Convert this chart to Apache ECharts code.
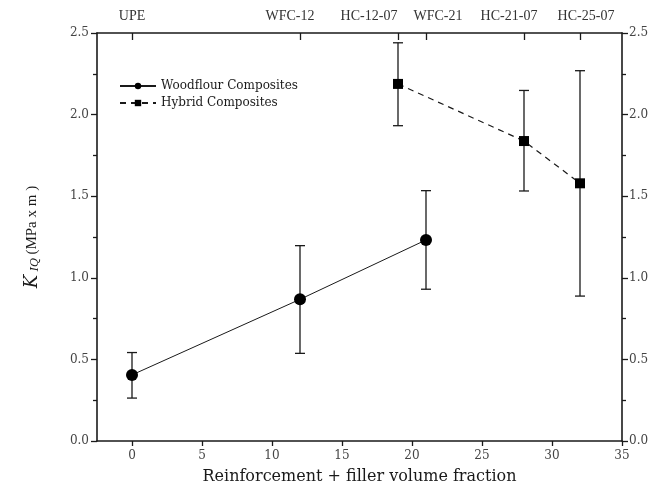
<!DOCTYPE html>
<html><head><meta charset="utf-8">
<script src="https://cdn.jsdelivr.net/npm/echarts@6/dist/echarts.min.js"></script>
<style>html,body{margin:0;padding:0;background:#fff}#c{width:666px;height:484px}</style>
</head><body><div id="c"></div>
<script>
// Data
const woodX = [0, 12, 21];
const woodY = [0.405, 0.868, 1.232];
const woodLow = [0.263, 0.537, 0.930];
const woodHigh = [0.542, 1.197, 1.534];

const hybX = [19, 28, 32];
const hybY = [2.188, 1.838, 1.579];
const hybLow = [1.932, 1.532, 0.888];
const hybHigh = [2.440, 2.148, 2.269];

const topTickValues = [0, 12, 19, 21, 28, 32];
const topTickLabels = ['UPE', 'WFC-12', 'HC-12-07', 'WFC-21', 'HC-21-07', 'HC-25-07'];
const bottomTicks = [0, 5, 10, 15, 20, 25, 30, 35];

// label nudges (left pad, right pad) for the top labels
const topPad = [[0, 0], [0, 20], [0, 58], [24, 0], [0, 30], [12, 0]];

const C = '#1a1a1a';
const serif = 'DejaVu Serif';
const chart = echarts.init(document.getElementById('c'));

function errData(xs, lo, hi) { return xs.map((x, i) => [x, lo[i], hi[i]]); }
function errRender(params, api) {
  const x = api.value(0);
  const p1 = api.coord([x, api.value(1)]);
  const p2 = api.coord([x, api.value(2)]);
  const w = 5;
  const st = { stroke: C, lineWidth: 1.3 };
  return { type: 'group', children: [
    { type: 'line', shape: { x1: p1[0], y1: p1[1], x2: p2[0], y2: p2[1] }, style: st },
    { type: 'line', shape: { x1: p1[0] - w, y1: p1[1], x2: p1[0] + w, y2: p1[1] }, style: st },
    { type: 'line', shape: { x1: p2[0] - w, y1: p2[1], x2: p2[0] + w, y2: p2[1] }, style: st }
  ]};
}

const topRich = {};
topTickLabels.forEach((l, i) => {
  topRich['t' + i] = { fontFamily: 'Liberation Serif', fontSize: 14, color: '#333', padding: [0, topPad[i][1], 0, topPad[i][0]] };
});

const axLine = { show: true, onZero: false, lineStyle: { color: C, width: 1.6 } };
chart.setOption({
  animation: false,
  backgroundColor: '#fff',
  grid: { left: 97, right: 44, top: 33, bottom: 43, outerBoundsMode: 'none', containLabel: false },
  legend: {
    orient: 'vertical', left: 114, top: 75, itemGap: 5, itemWidth: 36, itemHeight: 8,
    textStyle: { fontFamily: serif, fontSize: 12, color: C },
    data: ['Woodflour Composites', 'Hybrid Composites']
  },
  xAxis: [
    { type: 'value', position: 'bottom', min: -2.5, max: 35,
      name: 'Reinforcement + filler volume fraction', nameLocation: 'middle', nameGap: 28,
      nameTextStyle: { fontFamily: serif, fontSize: 16, color: C },
      axisLine: axLine, splitLine: { show: false },
      axisTick: { show: true, length: 5, customValues: bottomTicks, lineStyle: { color: C, width: 1.3 } },
      axisLabel: { customValues: bottomTicks, fontFamily: serif, fontSize: 12, color: '#444', margin: 9 } },
    { type: 'value', position: 'top', min: -2.5, max: 35,
      axisLine: axLine, splitLine: { show: false },
      axisTick: { show: true, inside: true, length: 7, customValues: topTickValues, lineStyle: { color: C, width: 1.3 } },
      axisLabel: { customValues: topTickValues, hideOverlap: false, margin: 10, rich: topRich,
        formatter: v => { const i = topTickValues.indexOf(v); return i >= 0 ? '{t' + i + '|' + topTickLabels[i] + '}' : ''; } } }
  ],
  yAxis: [
    { type: 'value', position: 'left', min: 0, max: 2.5, interval: 0.5,
      name: '{k|K}{s| IQ} {t|(MPa x m )}', nameLocation: 'middle', nameGap: 56, nameRotate: 90,
      nameTextStyle: { rich: {
        k: { fontFamily: serif, fontStyle: 'italic', fontSize: 18, color: C },
        s: { fontFamily: serif, fontStyle: 'italic', fontSize: 11, color: C, verticalAlign: 'bottom', padding: [6, 0, 0, 0] },
        t: { fontFamily: 'Liberation Serif', fontSize: 15, color: C } } },
      axisLine: axLine, splitLine: { show: false },
      axisTick: { show: true, length: 6, lineStyle: { color: C, width: 1.3 } },
      minorTick: { show: true, splitNumber: 2, length: 4, lineStyle: { color: C, width: 1.3 } },
      axisLabel: { fontFamily: serif, fontSize: 12, color: '#444', margin: 8, formatter: v => v.toFixed(1) } },
    { type: 'value', position: 'right', min: 0, max: 2.5, interval: 0.5,
      axisLine: axLine, splitLine: { show: false },
      axisTick: { show: true, length: 6, lineStyle: { color: C, width: 1.3 } },
      minorTick: { show: true, splitNumber: 2, length: 4, lineStyle: { color: C, width: 1.3 } },
      axisLabel: { fontFamily: serif, fontSize: 12, color: '#444', margin: 7, formatter: v => v.toFixed(1) } }
  ],
  series: [
    { type: 'custom', renderItem: errRender, data: errData(woodX, woodLow, woodHigh), z: 1, silent: true },
    { type: 'custom', renderItem: errRender, data: errData(hybX, hybLow, hybHigh), z: 1, silent: true },
    { name: 'Woodflour Composites', type: 'line', data: woodX.map((x, i) => [x, woodY[i]]),
      symbol: 'circle', symbolSize: 12, z: 3,
      lineStyle: { color: C, width: 1 }, itemStyle: { color: '#000' } },
    { name: 'Hybrid Composites', type: 'line', data: hybX.map((x, i) => [x, hybY[i]]),
      symbol: 'rect', symbolSize: 10, z: 3,
      lineStyle: { color: C, width: 1.2, type: [6, 5] }, itemStyle: { color: '#000' } }
  ]
});
</script></body></html>
